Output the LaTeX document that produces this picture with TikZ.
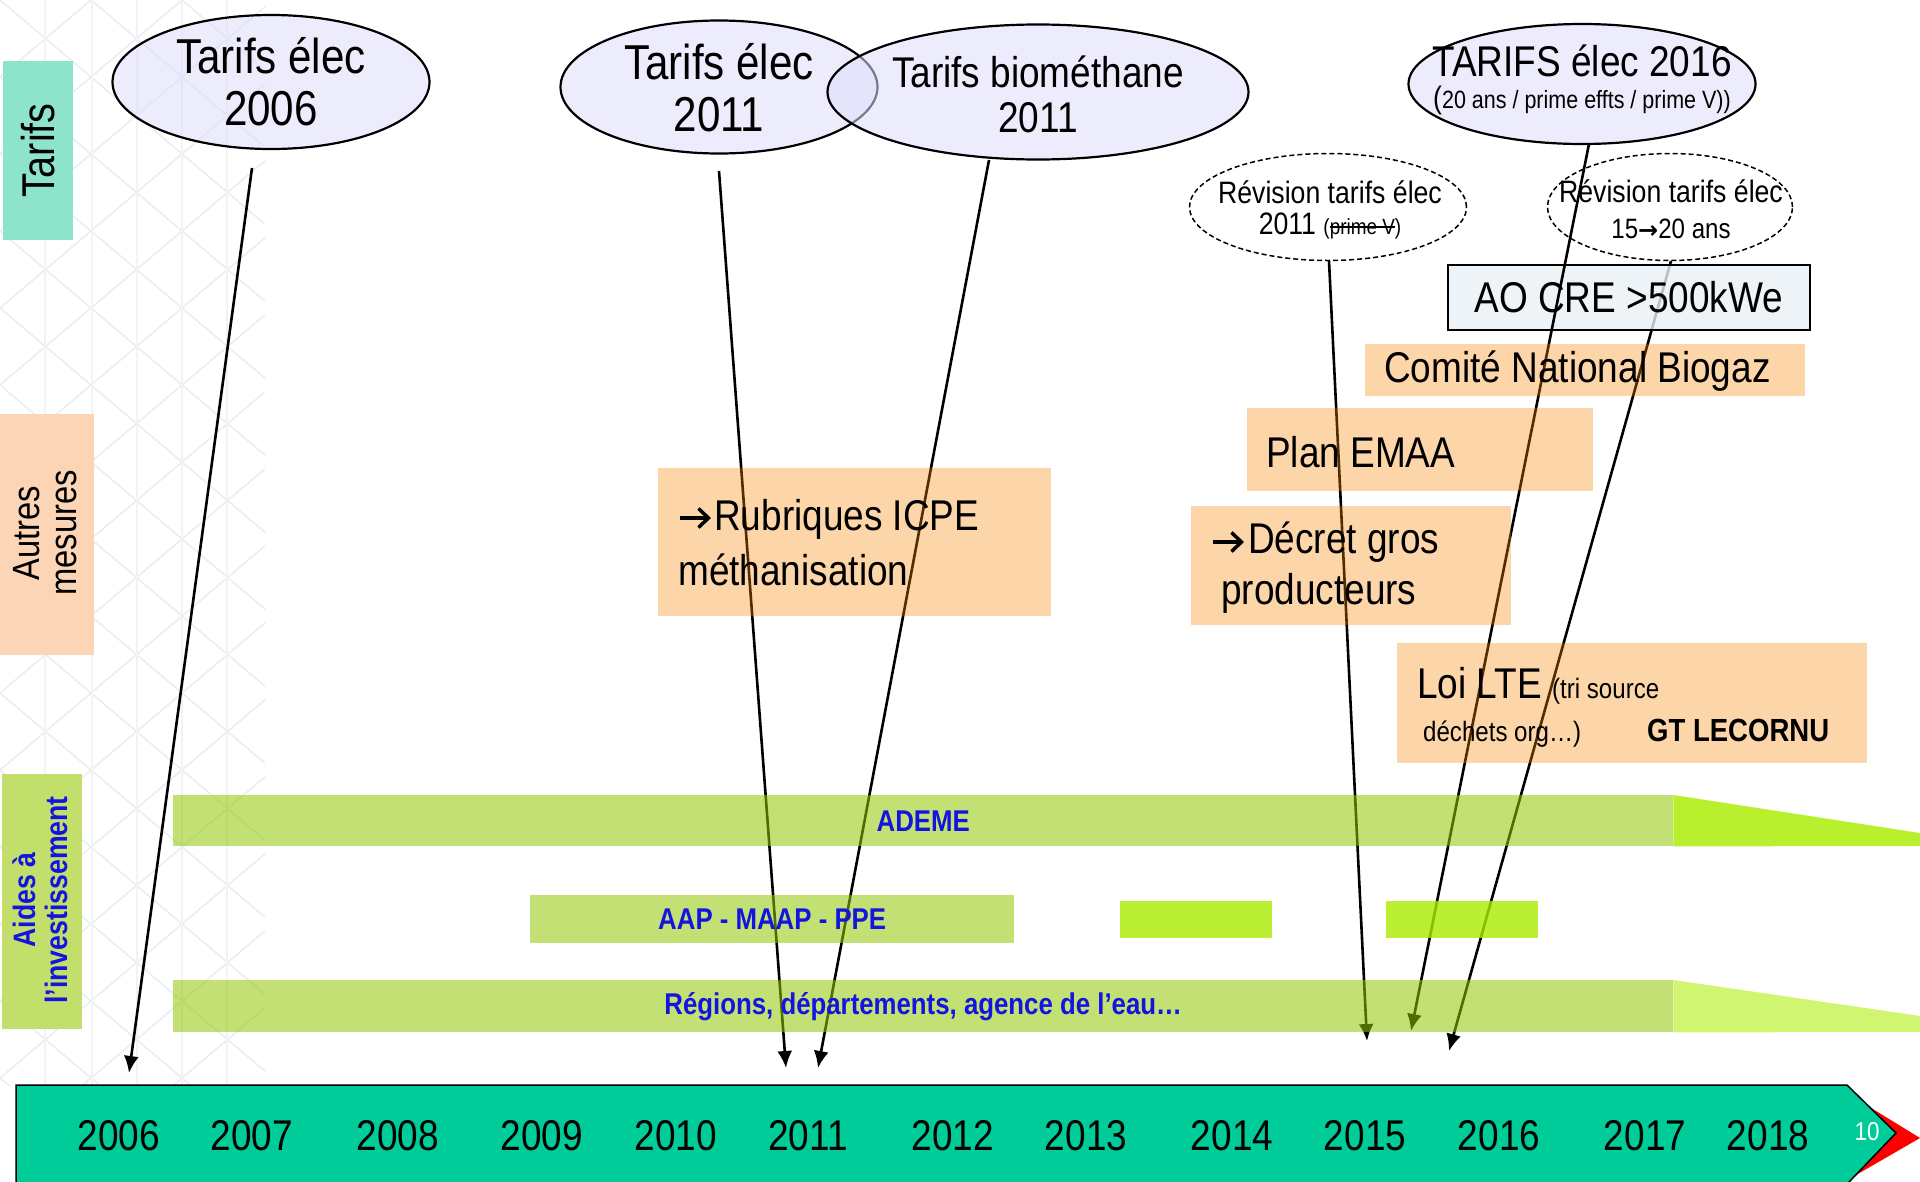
\documentclass[tikz,border=0pt]{standalone}
\usepackage{fontspec}
\setmainfont{Liberation Sans}[FakeStretch=0.86]
\newfontfamily\arrowfont{DejaVu Sans}
\usetikzlibrary{shapes.geometric,arrows.meta,calc}

\definecolor{tarifteal}{RGB}{142,228,203}
\definecolor{autrespeach}{RGB}{251,213,181}
\definecolor{aidesgreen}{RGB}{195,223,107}
\definecolor{lav}{RGB}{221,221,250}
\definecolor{boxorange}{RGB}{245,132,0}
\definecolor{aogray}{RGB}{232,240,244}
\definecolor{bargreen}{RGB}{144,199,0}
\definecolor{brightgreen}{RGB}{170,235,0}
\definecolor{wedgeA}{RGB}{185,240,45}
\definecolor{wedgeB}{RGB}{208,245,112}
\definecolor{timeline}{RGB}{0,204,153}
\definecolor{barblue}{RGB}{20,20,225}
\definecolor{lattice}{RGB}{235,238,241}

\newcommand{\sz}[2]{\fontsize{#1}{#2}\selectfont}
\newcommand{\rarr}{{\arrowfont\bfseries →}}
\newsavebox{\strikebox}
\newcommand{\struck}[1]{\sbox{\strikebox}{#1}\rlap{\rule[0.3em]{\wd\strikebox}{0.07em}}\usebox{\strikebox}}

\begin{document}
\begin{tikzpicture}[x=1pt,y=-1pt,
  ell/.style={ellipse, draw=black, line width=2.2pt, fill=lav, fill opacity=0.55, inner sep=0},
  dashell/.style={ellipse, draw=black, line width=1.5pt, dash pattern=on 5pt off 3pt, inner sep=0},
  orbox/.style={rectangle, fill=boxorange, fill opacity=0.34, inner sep=0, anchor=north west},
  aobox/.style={rectangle, draw=black, line width=1.8pt, fill=aogray, fill opacity=0.8, inner sep=0, anchor=north west},
  barbox/.style={rectangle, fill=bargreen, fill opacity=0.55, text opacity=1, inner sep=0, anchor=north west,
     text=barblue, font=\bfseries\sz{30}{36}},
  smallbar/.style={rectangle, fill=brightgreen, fill opacity=0.8, inner sep=0, anchor=north west},
  sidelabel/.style={rectangle, inner sep=0, anchor=north west},
  txt/.style={inner sep=0, text=black},
  yr/.style={inner sep=0, font=\sz{43}{50}},
  arr/.style={line width=2.6pt, draw=black, -{Latex[length=17pt,width=15pt]}},
  bullet/.style={line width=3.5pt, draw=black, -{Straight Barb[length=10pt,width=19pt,line width=3.5pt]}}
]
\useasboundingbox (0,0) rectangle (1920,1181);

% faint template lattice on the left edge
\begin{scope}
  \clip (0,0) rectangle (265,1085);
  \foreach \c in {-462,-385,...,1300} {
    \draw[lattice, line width=1.6pt] (0,\c) -- (300,{\c+0.846*300});
    \draw[lattice, line width=1.6pt] (0,{\c+231}) -- (300,{\c+231-0.846*300});
  }
  \foreach \xx in {45,92,137,182,227} {
    \draw[lattice!70, line width=1.6pt] (\xx,0) -- (\xx,1085);
  }
\end{scope}

% row labels
\node[sidelabel, fill=tarifteal, minimum width=70pt, minimum height=179pt] (lbltarifs) at (3,61) {};
\node[txt, rotate=90, font=\sz{46}{50}] (lbltarifstxt) at (lbltarifs.center) {Tarifs};
\node[sidelabel, fill=autrespeach, minimum width=94pt, minimum height=241pt] (lblautres) at (0,414) {};
\node[txt, rotate=90, align=center, font=\sz{38}{37}] (lblautrestxt) at (45,533) {Autres\\mesures};
\node[sidelabel, fill=aidesgreen, minimum width=80pt, minimum height=255pt] (lblaides) at (2,774) {};
\node[txt, rotate=90, align=center, text=barblue, font=\bfseries\sz{31}{32}] (lblaidestxt) at (40,900) {Aides à\\l’investissement};

% arrow start and end points
\coordinate (s1) at (252,168);   \coordinate (t1) at (129,1073);
\coordinate (s2) at (719,171);   \coordinate (t2) at (786,1068);
\coordinate (s3) at (989,160);   \coordinate (t3) at (818,1068);
\coordinate (s4) at (1329,261);  \coordinate (t4) at (1367,1041);
\coordinate (s5) at (1589,144);  \coordinate (t5) at (1411,1031);
\coordinate (s6) at (1671,261);  \coordinate (t6) at (1449,1051);

\draw[arr] (s1) -- (t1);
\draw[arr] (s2) -- (t2);
\draw[arr] (s3) -- (t3);
\draw[arr] (s4) -- (t4);
\draw[arr] (s6) -- (t6);

% tariff ellipses
\node[ell, minimum width=317pt, minimum height=134pt] (e2006) at (271,82) {};
\node[ell, minimum width=317pt, minimum height=133pt] (e2011) at (719,87) {};
\node[ell, minimum width=421pt, minimum height=135pt] (ebio) at (1038,92) {};
\node[ell, minimum width=347pt, minimum height=120pt] (e2016) at (1582,84) {};
\node[dashell, minimum width=277pt, minimum height=107pt] (rev2011) at (1328,207) {};
\node[dashell, minimum width=245pt, minimum height=107pt] (rev1520) at (1670,207) {};

% other measures
\node[aobox, minimum width=362pt, minimum height=65pt] (aocre) at (1447,264) {};
\draw[arr] (s5) -- (t5);
\node[orbox, minimum width=440pt, minimum height=52pt] (comite) at (1365,344) {};
\node[orbox, minimum width=346pt, minimum height=83pt] (emaa) at (1247,408) {};
\node[orbox, minimum width=320pt, minimum height=119pt] (decret) at (1191,506) {};
\node[orbox, minimum width=393pt, minimum height=148pt] (icpe) at (658,468) {};
\node[orbox, minimum width=470pt, minimum height=120pt] (loilte) at (1397,643) {};

% investment aid bars
\node[barbox, minimum width=1500pt, minimum height=51pt] (ademe) at (173,795) {ADEME};
\fill[wedgeA] (ademe.north east) -- (1920,833) -- (1920,846) -- (ademe.south east) -- cycle;
\node[barbox, minimum width=484pt, minimum height=48pt] (aap) at (530,895) {AAP - MAAP - PPE};
\node[smallbar, minimum width=152pt, minimum height=37pt] (bar2013) at (1120,901) {};
\node[smallbar, minimum width=152pt, minimum height=37pt] (bar2015) at (1386,901) {};
\node[barbox, minimum width=1500pt, minimum height=52pt] (regions) at (173,980) {Régions, départements, agence de l’eau…};
\fill[wedgeB] (regions.north east) -- (1920,1016) -- (1920,1032) -- (regions.south east) -- cycle;

% ellipse texts
\node[txt, align=center, font=\sz{49}{52}] (t2006) at (e2006.center) {Tarifs élec\\2006};
\node[txt, align=center, font=\sz{49}{52}] (t2011) at (719,88) {Tarifs élec\\2011};
\node[txt, align=center, font=\sz{43}{45}] (tbio) at (1038,94) {Tarifs biométhane\\2011};
\node[txt, font=\sz{43}{48}] (t2016a) at (1582,61) {TARIFS élec 2016};
\node[txt, font=\sz{25}{30}] (t2016b) at (1582,100) {{\sz{31}{30}(}20 ans / prime effts / prime V))};
\node[txt, font=\sz{31}{36}] (trev1) at (1330,192) {Révision tarifs élec};
\node[txt, font=\sz{31}{36}] (trev2) at (1330,226) {2011 {\sz{22}{26}(\struck{prime V})}};
\node[txt, font=\sz{31}{36}] (trev3) at (1671,191) {Révision tarifs élec};
\node[txt, font=\sz{28}{32}] (trev4) at (1671,229) {15{\sz{24}{32}\rarr}20 ans};

% box texts
\node[txt, font=\sz{43}{50}] (taocre) at (aocre.center) {AO CRE >500kWe};
\node[txt, anchor=west, font=\sz{43}{50}] (tcomite) at (1384,371) {Comité National Biogaz};
\node[txt, anchor=west, font=\sz{43}{50}] (temaa) at (1266,452) {Plan EMAA};

\coordinate (bd1) at (1213,542); \coordinate (bd2) at (1244,542);
\draw[bullet] (bd1) -- (bd2);
\node[txt, anchor=base west, font=\sz{43}{50}] (tdecret1) at (1248,553) {Décret gros};
\node[txt, anchor=base west, font=\sz{43}{50}] (tdecret2) at (1221,604) {producteurs};

\coordinate (bi1) at (680,518); \coordinate (bi2) at (711,518);
\draw[bullet] (bi1) -- (bi2);
\node[txt, anchor=base west, font=\sz{43}{50}] (ticpe1) at (714,530) {Rubriques ICPE};
\node[txt, anchor=base west, font=\sz{43}{50}] (ticpe2) at (678,585) {méthanisation};

\node[txt, anchor=base west, font=\sz{43}{50}] (tlte) at (1417,698) {Loi LTE {\sz{28}{30}(tri source}};
\node[txt, anchor=base west, font=\sz{28}{30}] (tdechets) at (1423,741) {déchets org…)};
\node[txt, anchor=base west, font=\bfseries\sz{32}{36}] (tlecornu) at (1647,741) {GT LECORNU};

% timeline
\fill[red] (1868,1106) -- (1920,1138) -- (1856,1175) -- cycle;
\filldraw[fill=timeline, draw=black, line width=1.5pt]
  (16,1195) -- (16,1085) -- (1847,1085) -- (1896,1133) -- (1849,1182) -- (1849,1195);
\node[yr] (y2006) at (119,1136) {2006};
\node[yr] (y2007) at (252,1136) {2007};
\node[yr] (y2008) at (398,1136) {2008};
\node[yr] (y2009) at (542,1136) {2009};
\node[yr] (y2010) at (676,1136) {2010};
\node[yr] (y2011) at (808,1136) {2011};
\node[yr] (y2012) at (953,1136) {2012};
\node[yr] (y2013) at (1086,1136) {2013};
\node[yr] (y2014) at (1232,1136) {2014};
\node[yr] (y2015) at (1365,1136) {2015};
\node[yr] (y2016) at (1499,1136) {2016};
\node[yr] (y2017) at (1645,1136) {2017};
\node[yr] (y2018) at (1768,1136) {2018};
\node[txt, text=white, font=\sz{26}{30}] (pagenum) at (1867,1132) {10};
\end{tikzpicture}
\end{document}
